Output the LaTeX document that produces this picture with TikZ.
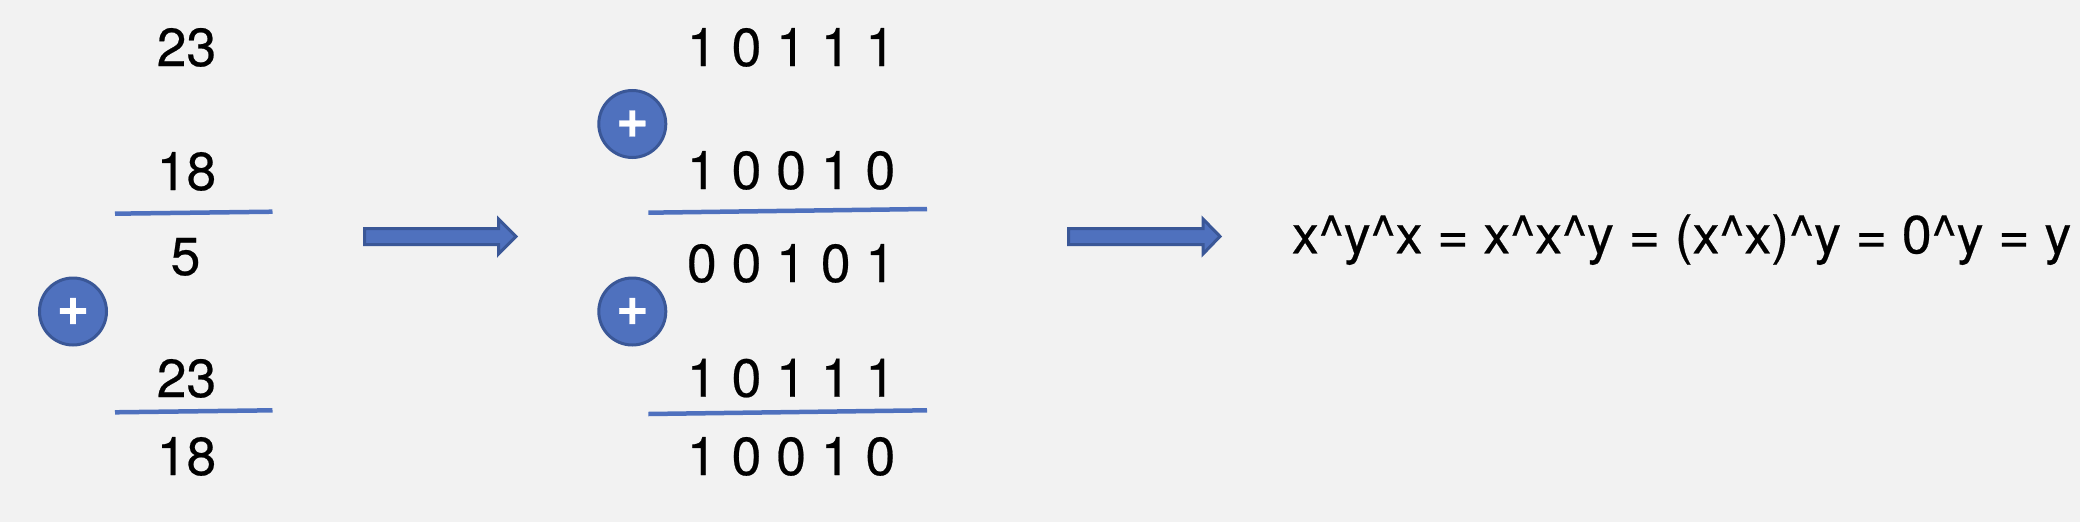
\documentclass[tikz,border=0pt]{standalone}
\usepackage{fontspec}
\setmainfont{TeX Gyre Heros}[FakeBold=0.4]
\definecolor{bg}{HTML}{F2F2F2}
\definecolor{bluefill}{HTML}{4F71BE}
\definecolor{blueedge}{HTML}{3A5797}
\tikzset{
  lbl/.style={anchor=base,inner sep=0pt,outer sep=0pt,text=black,font=\fontsize{53.5}{60}\selectfont},
  lblw/.style={anchor=base west,inner sep=0pt,outer sep=0pt,text=black,font=\fontsize{53.5}{60}\selectfont},
  xorop/.style={circle,draw=blueedge,fill=bluefill,line width=3pt,minimum size=67pt,inner sep=0pt,text=white,font=\bfseries\fontsize{56}{56}\selectfont},
  rule/.style={draw=bluefill,line width=4.5pt},
  blockarrow/.style={draw=blueedge,fill=bluefill,line width=3pt,miter limit=3}
}
\newcommand{\plusmark}{\raisebox{-3pt}{+}}
\begin{document}
\begin{tikzpicture}[x=1pt,y=-1pt]
\useasboundingbox (0,0) rectangle (2080,522);
\fill[bg] (0,0) rectangle (2080,522);
% left column
\node[lbl] (a1) at (186.5,66) {23};
\node[lbl] (a2) at (186.5,190) {18};
\node[lbl] (a3) at (185.5,275) {5};
\node[lbl] (a4) at (186.5,397) {23};
\node[lbl] (a5) at (186.5,475) {18};
\node[xorop] (p1) at (73,311.5) {\plusmark};
\coordinate (r1a) at (115,213.7); \coordinate (r1b) at (272.5,211.7);
\coordinate (r2a) at (115,412.3); \coordinate (r2b) at (272.5,410.3);
\draw[rule] (r1a) -- (r1b);
\draw[rule] (r2a) -- (r2b);
\draw[blockarrow] (364.5,228.5) -- (498.6,228.5) -- (498.6,219) -- (516,236.4) -- (498.6,254) -- (498.6,244.5) -- (364.5,244.5) -- cycle;
% middle column
\node[lblw] (b1) at (687,66) {1 0 1 1 1};
\node[lblw] (b2) at (687,189) {1 0 0 1 0};
\node[lblw] (b3) at (687,282) {0 0 1 0 1};
\node[lblw] (b4) at (687,396.7) {1 0 1 1 1};
\node[lblw] (b5) at (687,475) {1 0 0 1 0};
\node[xorop] (p2) at (632.3,124) {\plusmark};
\node[xorop] (p3) at (632.3,311.5) {\plusmark};
\coordinate (r3a) at (648.4,212.7); \coordinate (r3b) at (927,209);
\coordinate (r4a) at (648.4,414); \coordinate (r4b) at (927,410.3);
\draw[rule] (r3a) -- (r3b);
\draw[rule] (r4a) -- (r4b);
\draw[blockarrow] (1068.5,228.5) -- (1203,228.5) -- (1203,219) -- (1220,236.4) -- (1203,254) -- (1203,244.5) -- (1068.5,244.5) -- cycle;
% equation
\node[lblw] (eq) at (1292,253.3) {x\char`\^y\char`\^x = x\char`\^x\char`\^y = (x\char`\^x)\char`\^y = 0\char`\^y = y};
\end{tikzpicture}
\end{document}
